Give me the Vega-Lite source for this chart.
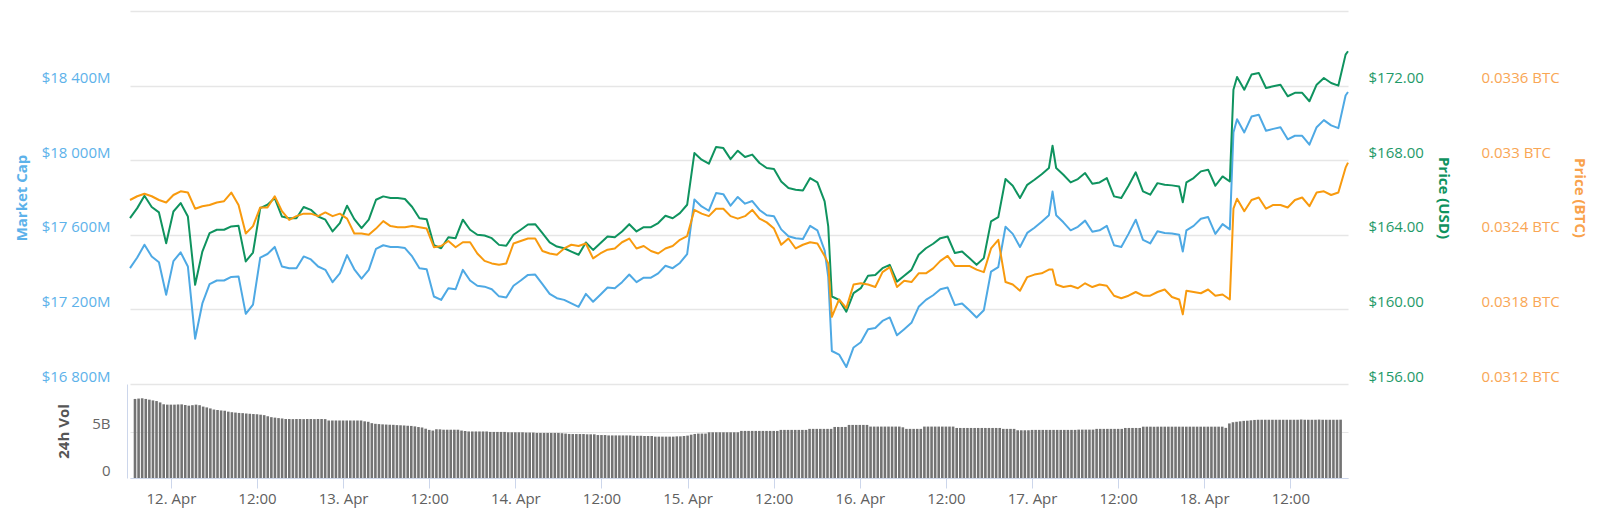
{
  "$schema": "https://vega.github.io/schema/vega-lite/v6.json",
  "description": "Market cap, price (USD), price (BTC) and 24h volume over one week",
  "padding": {"left": 14, "top": 11, "right": 5, "bottom": 5},
  "spacing": 0,
  "resolve": {"scale": {"y": "independent"}},
  "config": {
    "view": {"stroke": null},
    "font": "Open Sans",
    "axis": {"labelFont": "Open Sans", "titleFont": "Open Sans"}
  },
  "datasets": {
    "px": [
      {"t": "2019-04-11T19:00Z", "mc": 17421, "usd": 164.89, "btc": 0.03268},
      {"t": "2019-04-11T20:00Z", "mc": 17478, "usd": 165.43, "btc": 0.03271},
      {"t": "2019-04-11T21:00Z", "mc": 17547, "usd": 166.09, "btc": 0.03273},
      {"t": "2019-04-11T22:00Z", "mc": 17484, "usd": 165.49, "btc": 0.03271},
      {"t": "2019-04-11T23:00Z", "mc": 17453, "usd": 165.20, "btc": 0.03268},
      {"t": "2019-04-12T00:00Z", "mc": 17279, "usd": 163.55, "btc": 0.03266},
      {"t": "2019-04-12T01:00Z", "mc": 17459, "usd": 165.25, "btc": 0.03272},
      {"t": "2019-04-12T02:00Z", "mc": 17506, "usd": 165.70, "btc": 0.03275},
      {"t": "2019-04-12T03:00Z", "mc": 17430, "usd": 164.98, "btc": 0.03274},
      {"t": "2019-04-12T04:00Z", "mc": 17043, "usd": 161.32, "btc": 0.03261},
      {"t": "2019-04-12T05:00Z", "mc": 17232, "usd": 163.10, "btc": 0.03263},
      {"t": "2019-04-12T06:00Z", "mc": 17336, "usd": 164.09, "btc": 0.03264},
      {"t": "2019-04-12T07:00Z", "mc": 17355, "usd": 164.27, "btc": 0.03266},
      {"t": "2019-04-12T08:00Z", "mc": 17355, "usd": 164.27, "btc": 0.03267},
      {"t": "2019-04-12T09:00Z", "mc": 17374, "usd": 164.45, "btc": 0.03274},
      {"t": "2019-04-12T10:00Z", "mc": 17377, "usd": 164.48, "btc": 0.03264},
      {"t": "2019-04-12T11:00Z", "mc": 17176, "usd": 162.57, "btc": 0.03241},
      {"t": "2019-04-12T12:00Z", "mc": 17226, "usd": 163.05, "btc": 0.03247},
      {"t": "2019-04-12T13:00Z", "mc": 17478, "usd": 165.43, "btc": 0.03262},
      {"t": "2019-04-12T14:00Z", "mc": 17497, "usd": 165.61, "btc": 0.03262},
      {"t": "2019-04-12T15:00Z", "mc": 17535, "usd": 165.97, "btc": 0.03271},
      {"t": "2019-04-12T16:00Z", "mc": 17430, "usd": 164.98, "btc": 0.03259},
      {"t": "2019-04-12T17:00Z", "mc": 17421, "usd": 164.89, "btc": 0.03252},
      {"t": "2019-04-12T18:00Z", "mc": 17421, "usd": 164.89, "btc": 0.03255},
      {"t": "2019-04-12T19:00Z", "mc": 17484, "usd": 165.49, "btc": 0.03257},
      {"t": "2019-04-12T20:00Z", "mc": 17468, "usd": 165.34, "btc": 0.03257},
      {"t": "2019-04-12T21:00Z", "mc": 17430, "usd": 164.98, "btc": 0.03255},
      {"t": "2019-04-12T22:00Z", "mc": 17412, "usd": 164.81, "btc": 0.03258},
      {"t": "2019-04-12T23:00Z", "mc": 17346, "usd": 164.18, "btc": 0.03255},
      {"t": "2019-04-13T00:00Z", "mc": 17393, "usd": 164.63, "btc": 0.03257},
      {"t": "2019-04-13T01:00Z", "mc": 17491, "usd": 165.56, "btc": 0.03253},
      {"t": "2019-04-13T02:00Z", "mc": 17415, "usd": 164.84, "btc": 0.03241},
      {"t": "2019-04-13T03:00Z", "mc": 17365, "usd": 164.36, "btc": 0.03241},
      {"t": "2019-04-13T04:00Z", "mc": 17412, "usd": 164.81, "btc": 0.03240},
      {"t": "2019-04-13T05:00Z", "mc": 17525, "usd": 165.88, "btc": 0.03245},
      {"t": "2019-04-13T06:00Z", "mc": 17544, "usd": 166.06, "btc": 0.03251},
      {"t": "2019-04-13T07:00Z", "mc": 17535, "usd": 165.97, "btc": 0.03247},
      {"t": "2019-04-13T08:00Z", "mc": 17535, "usd": 165.97, "btc": 0.03246},
      {"t": "2019-04-13T09:00Z", "mc": 17529, "usd": 165.92, "btc": 0.03246},
      {"t": "2019-04-13T10:00Z", "mc": 17484, "usd": 165.49, "btc": 0.03247},
      {"t": "2019-04-13T11:00Z", "mc": 17421, "usd": 164.89, "btc": 0.03246},
      {"t": "2019-04-13T12:00Z", "mc": 17415, "usd": 164.84, "btc": 0.03245},
      {"t": "2019-04-13T13:00Z", "mc": 17269, "usd": 163.45, "btc": 0.03230},
      {"t": "2019-04-13T14:00Z", "mc": 17251, "usd": 163.28, "btc": 0.03231},
      {"t": "2019-04-13T15:00Z", "mc": 17313, "usd": 163.87, "btc": 0.03235},
      {"t": "2019-04-13T16:00Z", "mc": 17308, "usd": 163.82, "btc": 0.03230},
      {"t": "2019-04-13T17:00Z", "mc": 17412, "usd": 164.81, "btc": 0.03234},
      {"t": "2019-04-13T18:00Z", "mc": 17355, "usd": 164.27, "btc": 0.03234},
      {"t": "2019-04-13T19:00Z", "mc": 17327, "usd": 164.00, "btc": 0.03225},
      {"t": "2019-04-13T20:00Z", "mc": 17322, "usd": 163.96, "btc": 0.03219},
      {"t": "2019-04-13T21:00Z", "mc": 17308, "usd": 163.82, "btc": 0.03217},
      {"t": "2019-04-13T22:00Z", "mc": 17270, "usd": 163.46, "btc": 0.03216},
      {"t": "2019-04-13T23:00Z", "mc": 17264, "usd": 163.41, "btc": 0.03217},
      {"t": "2019-04-14T00:00Z", "mc": 17327, "usd": 164.00, "btc": 0.03233},
      {"t": "2019-04-14T01:00Z", "mc": 17355, "usd": 164.27, "btc": 0.03235},
      {"t": "2019-04-14T02:00Z", "mc": 17385, "usd": 164.55, "btc": 0.03237},
      {"t": "2019-04-14T03:00Z", "mc": 17387, "usd": 164.57, "btc": 0.03237},
      {"t": "2019-04-14T04:00Z", "mc": 17336, "usd": 164.09, "btc": 0.03227},
      {"t": "2019-04-14T05:00Z", "mc": 17283, "usd": 163.59, "btc": 0.03225},
      {"t": "2019-04-14T06:00Z", "mc": 17260, "usd": 163.37, "btc": 0.03224},
      {"t": "2019-04-14T07:00Z", "mc": 17251, "usd": 163.28, "btc": 0.03229},
      {"t": "2019-04-14T08:00Z", "mc": 17232, "usd": 163.10, "btc": 0.03232},
      {"t": "2019-04-14T09:00Z", "mc": 17214, "usd": 162.93, "btc": 0.03231},
      {"t": "2019-04-14T10:00Z", "mc": 17283, "usd": 163.59, "btc": 0.03233},
      {"t": "2019-04-14T11:00Z", "mc": 17241, "usd": 163.19, "btc": 0.03221},
      {"t": "2019-04-14T12:00Z", "mc": 17279, "usd": 163.55, "btc": 0.03225},
      {"t": "2019-04-14T13:00Z", "mc": 17317, "usd": 163.91, "btc": 0.03228},
      {"t": "2019-04-14T14:00Z", "mc": 17313, "usd": 163.87, "btc": 0.03229},
      {"t": "2019-04-14T15:00Z", "mc": 17346, "usd": 164.18, "btc": 0.03234},
      {"t": "2019-04-14T16:00Z", "mc": 17387, "usd": 164.57, "btc": 0.03237},
      {"t": "2019-04-14T17:00Z", "mc": 17346, "usd": 164.18, "btc": 0.03229},
      {"t": "2019-04-14T18:00Z", "mc": 17370, "usd": 164.41, "btc": 0.03231},
      {"t": "2019-04-14T19:00Z", "mc": 17370, "usd": 164.41, "btc": 0.03227},
      {"t": "2019-04-14T20:00Z", "mc": 17393, "usd": 164.63, "btc": 0.03225},
      {"t": "2019-04-14T21:00Z", "mc": 17434, "usd": 165.02, "btc": 0.03229},
      {"t": "2019-04-14T22:00Z", "mc": 17421, "usd": 164.89, "btc": 0.03231},
      {"t": "2019-04-14T23:00Z", "mc": 17449, "usd": 165.16, "btc": 0.03236},
      {"t": "2019-04-15T00:00Z", "mc": 17497, "usd": 165.61, "btc": 0.03239},
      {"t": "2019-04-15T01:00Z", "mc": 17789, "usd": 168.38, "btc": 0.03260},
      {"t": "2019-04-15T02:00Z", "mc": 17752, "usd": 168.03, "btc": 0.03257},
      {"t": "2019-04-15T03:00Z", "mc": 17729, "usd": 167.81, "btc": 0.03255},
      {"t": "2019-04-15T04:00Z", "mc": 17824, "usd": 168.71, "btc": 0.03261},
      {"t": "2019-04-15T05:00Z", "mc": 17818, "usd": 168.65, "btc": 0.03261},
      {"t": "2019-04-15T06:00Z", "mc": 17756, "usd": 168.06, "btc": 0.03255},
      {"t": "2019-04-15T07:00Z", "mc": 17803, "usd": 168.51, "btc": 0.03253},
      {"t": "2019-04-15T08:00Z", "mc": 17767, "usd": 168.17, "btc": 0.03255},
      {"t": "2019-04-15T09:00Z", "mc": 17781, "usd": 168.30, "btc": 0.03260},
      {"t": "2019-04-15T10:00Z", "mc": 17733, "usd": 167.85, "btc": 0.03253},
      {"t": "2019-04-15T11:00Z", "mc": 17705, "usd": 167.58, "btc": 0.03250},
      {"t": "2019-04-15T12:00Z", "mc": 17700, "usd": 167.53, "btc": 0.03245},
      {"t": "2019-04-15T13:00Z", "mc": 17629, "usd": 166.86, "btc": 0.03232},
      {"t": "2019-04-15T14:00Z", "mc": 17592, "usd": 166.51, "btc": 0.03237},
      {"t": "2019-04-15T15:00Z", "mc": 17582, "usd": 166.42, "btc": 0.03229},
      {"t": "2019-04-15T16:00Z", "mc": 17578, "usd": 166.38, "btc": 0.03232},
      {"t": "2019-04-15T17:00Z", "mc": 17648, "usd": 167.04, "btc": 0.03234},
      {"t": "2019-04-15T18:00Z", "mc": 17624, "usd": 166.81, "btc": 0.03233},
      {"t": "2019-04-15T19:00Z", "mc": 17516, "usd": 165.79, "btc": 0.03223},
      {"t": "2019-04-15T19:30Z", "mc": 17374, "usd": 164.45, "btc": 0.03217},
      {"t": "2019-04-15T20:00Z", "mc": 16977, "usd": 160.69, "btc": 0.03174},
      {"t": "2019-04-15T21:00Z", "mc": 16958, "usd": 160.51, "btc": 0.03188},
      {"t": "2019-04-15T22:00Z", "mc": 16891, "usd": 159.88, "btc": 0.03181},
      {"t": "2019-04-15T23:00Z", "mc": 16996, "usd": 160.87, "btc": 0.03200},
      {"t": "2019-04-16T00:00Z", "mc": 17024, "usd": 161.14, "btc": 0.03201},
      {"t": "2019-04-16T01:00Z", "mc": 17094, "usd": 161.80, "btc": 0.03200},
      {"t": "2019-04-16T02:00Z", "mc": 17100, "usd": 161.85, "btc": 0.03198},
      {"t": "2019-04-16T03:00Z", "mc": 17138, "usd": 162.21, "btc": 0.03210},
      {"t": "2019-04-16T04:00Z", "mc": 17157, "usd": 162.39, "btc": 0.03214},
      {"t": "2019-04-16T05:00Z", "mc": 17061, "usd": 161.49, "btc": 0.03198},
      {"t": "2019-04-16T06:00Z", "mc": 17094, "usd": 161.80, "btc": 0.03203},
      {"t": "2019-04-16T07:00Z", "mc": 17128, "usd": 162.12, "btc": 0.03202},
      {"t": "2019-04-16T08:00Z", "mc": 17214, "usd": 162.93, "btc": 0.03209},
      {"t": "2019-04-16T09:00Z", "mc": 17251, "usd": 163.28, "btc": 0.03209},
      {"t": "2019-04-16T10:00Z", "mc": 17276, "usd": 163.52, "btc": 0.03213},
      {"t": "2019-04-16T11:00Z", "mc": 17308, "usd": 163.82, "btc": 0.03219},
      {"t": "2019-04-16T12:00Z", "mc": 17317, "usd": 163.91, "btc": 0.03223},
      {"t": "2019-04-16T13:00Z", "mc": 17223, "usd": 163.02, "btc": 0.03215},
      {"t": "2019-04-16T14:00Z", "mc": 17232, "usd": 163.10, "btc": 0.03215},
      {"t": "2019-04-16T15:00Z", "mc": 17195, "usd": 162.75, "btc": 0.03215},
      {"t": "2019-04-16T16:00Z", "mc": 17157, "usd": 162.39, "btc": 0.03212},
      {"t": "2019-04-16T17:00Z", "mc": 17195, "usd": 162.75, "btc": 0.03210},
      {"t": "2019-04-16T18:00Z", "mc": 17403, "usd": 164.72, "btc": 0.03229},
      {"t": "2019-04-16T19:00Z", "mc": 17427, "usd": 164.95, "btc": 0.03236},
      {"t": "2019-04-16T20:00Z", "mc": 17643, "usd": 166.99, "btc": 0.03202},
      {"t": "2019-04-16T21:00Z", "mc": 17605, "usd": 166.63, "btc": 0.03200},
      {"t": "2019-04-16T22:00Z", "mc": 17535, "usd": 165.97, "btc": 0.03195},
      {"t": "2019-04-16T23:00Z", "mc": 17610, "usd": 166.68, "btc": 0.03206},
      {"t": "2019-04-17T00:00Z", "mc": 17638, "usd": 166.95, "btc": 0.03208},
      {"t": "2019-04-17T01:00Z", "mc": 17670, "usd": 167.25, "btc": 0.03209},
      {"t": "2019-04-17T02:00Z", "mc": 17705, "usd": 167.58, "btc": 0.03212},
      {"t": "2019-04-17T02:30Z", "mc": 17832, "usd": 168.78, "btc": 0.03212},
      {"t": "2019-04-17T03:00Z", "mc": 17705, "usd": 167.58, "btc": 0.03200},
      {"t": "2019-04-17T04:00Z", "mc": 17667, "usd": 167.22, "btc": 0.03198},
      {"t": "2019-04-17T05:00Z", "mc": 17624, "usd": 166.81, "btc": 0.03199},
      {"t": "2019-04-17T06:00Z", "mc": 17643, "usd": 166.99, "btc": 0.03197},
      {"t": "2019-04-17T07:00Z", "mc": 17676, "usd": 167.31, "btc": 0.03201},
      {"t": "2019-04-17T08:00Z", "mc": 17616, "usd": 166.74, "btc": 0.03198},
      {"t": "2019-04-17T09:00Z", "mc": 17624, "usd": 166.81, "btc": 0.03200},
      {"t": "2019-04-17T10:00Z", "mc": 17648, "usd": 167.04, "btc": 0.03199},
      {"t": "2019-04-17T11:00Z", "mc": 17544, "usd": 166.06, "btc": 0.03191},
      {"t": "2019-04-17T12:00Z", "mc": 17535, "usd": 165.97, "btc": 0.03189},
      {"t": "2019-04-17T13:00Z", "mc": 17605, "usd": 166.63, "btc": 0.03191},
      {"t": "2019-04-17T14:00Z", "mc": 17681, "usd": 167.35, "btc": 0.03194},
      {"t": "2019-04-17T15:00Z", "mc": 17573, "usd": 166.33, "btc": 0.03191},
      {"t": "2019-04-17T16:00Z", "mc": 17554, "usd": 166.15, "btc": 0.03191},
      {"t": "2019-04-17T17:00Z", "mc": 17619, "usd": 166.77, "btc": 0.03194},
      {"t": "2019-04-17T18:00Z", "mc": 17610, "usd": 166.68, "btc": 0.03196},
      {"t": "2019-04-17T19:00Z", "mc": 17607, "usd": 166.65, "btc": 0.03190},
      {"t": "2019-04-17T20:00Z", "mc": 17600, "usd": 166.59, "btc": 0.03188},
      {"t": "2019-04-17T20:30Z", "mc": 17510, "usd": 165.74, "btc": 0.03176},
      {"t": "2019-04-17T21:00Z", "mc": 17624, "usd": 166.81, "btc": 0.03195},
      {"t": "2019-04-17T22:00Z", "mc": 17648, "usd": 167.04, "btc": 0.03194},
      {"t": "2019-04-17T23:00Z", "mc": 17686, "usd": 167.40, "btc": 0.03193},
      {"t": "2019-04-18T00:00Z", "mc": 17695, "usd": 167.49, "btc": 0.03196},
      {"t": "2019-04-18T01:00Z", "mc": 17605, "usd": 166.63, "btc": 0.03191},
      {"t": "2019-04-18T02:00Z", "mc": 17657, "usd": 167.13, "btc": 0.03192},
      {"t": "2019-04-18T03:00Z", "mc": 17629, "usd": 166.86, "btc": 0.03188},
      {"t": "2019-04-18T03:30Z", "mc": 18149, "usd": 171.78, "btc": 0.03261},
      {"t": "2019-04-18T04:00Z", "mc": 18220, "usd": 172.46, "btc": 0.03269},
      {"t": "2019-04-18T05:00Z", "mc": 18149, "usd": 171.78, "btc": 0.03259},
      {"t": "2019-04-18T06:00Z", "mc": 18234, "usd": 172.59, "btc": 0.03268},
      {"t": "2019-04-18T07:00Z", "mc": 18244, "usd": 172.68, "btc": 0.03270},
      {"t": "2019-04-18T08:00Z", "mc": 18158, "usd": 171.87, "btc": 0.03261},
      {"t": "2019-04-18T09:00Z", "mc": 18168, "usd": 171.96, "btc": 0.03264},
      {"t": "2019-04-18T10:00Z", "mc": 18177, "usd": 172.05, "btc": 0.03264},
      {"t": "2019-04-18T11:00Z", "mc": 18112, "usd": 171.43, "btc": 0.03262},
      {"t": "2019-04-18T12:00Z", "mc": 18131, "usd": 171.61, "btc": 0.03268},
      {"t": "2019-04-18T13:00Z", "mc": 18131, "usd": 171.61, "btc": 0.03270},
      {"t": "2019-04-18T14:00Z", "mc": 18083, "usd": 171.16, "btc": 0.03263},
      {"t": "2019-04-18T15:00Z", "mc": 18177, "usd": 172.05, "btc": 0.03274},
      {"t": "2019-04-18T16:00Z", "mc": 18215, "usd": 172.41, "btc": 0.03275},
      {"t": "2019-04-18T17:00Z", "mc": 18187, "usd": 172.14, "btc": 0.03272},
      {"t": "2019-04-18T18:00Z", "mc": 18172, "usd": 172.00, "btc": 0.03274},
      {"t": "2019-04-18T19:00Z", "mc": 18347, "usd": 173.66, "btc": 0.03294},
      {"t": "2019-04-18T19:20Z", "mc": 18366, "usd": 173.84, "btc": 0.03298}
    ],
    "vol": [
      {"t": "2019-04-11T19:00Z", "v": 8.58}, {"t": "2019-04-11T19:30Z", "v": 8.62},
      {"t": "2019-04-11T20:00Z", "v": 8.65}, {"t": "2019-04-11T20:30Z", "v": 8.58},
      {"t": "2019-04-11T21:00Z", "v": 8.50}, {"t": "2019-04-11T21:30Z", "v": 8.42},
      {"t": "2019-04-11T22:00Z", "v": 8.35}, {"t": "2019-04-11T22:30Z", "v": 8.20},
      {"t": "2019-04-11T23:00Z", "v": 8.00}, {"t": "2019-04-11T23:30Z", "v": 7.96},
      {"t": "2019-04-12T00:00Z", "v": 7.96}, {"t": "2019-04-12T00:30Z", "v": 7.96},
      {"t": "2019-04-12T01:00Z", "v": 7.98}, {"t": "2019-04-12T01:30Z", "v": 7.99},
      {"t": "2019-04-12T02:00Z", "v": 7.92}, {"t": "2019-04-12T02:30Z", "v": 7.85},
      {"t": "2019-04-12T03:00Z", "v": 7.90}, {"t": "2019-04-12T03:30Z", "v": 7.96},
      {"t": "2019-04-12T04:00Z", "v": 7.90}, {"t": "2019-04-12T04:30Z", "v": 7.75},
      {"t": "2019-04-12T05:00Z", "v": 7.66}, {"t": "2019-04-12T05:30Z", "v": 7.55},
      {"t": "2019-04-12T06:00Z", "v": 7.43}, {"t": "2019-04-12T06:30Z", "v": 7.38},
      {"t": "2019-04-12T07:00Z", "v": 7.33}, {"t": "2019-04-12T07:30Z", "v": 7.30},
      {"t": "2019-04-12T08:00Z", "v": 7.20}, {"t": "2019-04-12T08:30Z", "v": 7.14},
      {"t": "2019-04-12T09:00Z", "v": 7.10}, {"t": "2019-04-12T09:30Z", "v": 7.06},
      {"t": "2019-04-12T10:00Z", "v": 7.04}, {"t": "2019-04-12T10:30Z", "v": 7.00},
      {"t": "2019-04-12T11:00Z", "v": 6.97}, {"t": "2019-04-12T11:30Z", "v": 6.94},
      {"t": "2019-04-12T12:00Z", "v": 6.92}, {"t": "2019-04-12T12:30Z", "v": 6.87},
      {"t": "2019-04-12T13:00Z", "v": 6.82}, {"t": "2019-04-12T13:30Z", "v": 6.70},
      {"t": "2019-04-12T14:00Z", "v": 6.60}, {"t": "2019-04-12T14:30Z", "v": 6.55},
      {"t": "2019-04-12T15:00Z", "v": 6.50}, {"t": "2019-04-12T15:30Z", "v": 6.46},
      {"t": "2019-04-12T16:00Z", "v": 6.40}, {"t": "2019-04-12T16:30Z", "v": 6.40},
      {"t": "2019-04-12T17:00Z", "v": 6.39}, {"t": "2019-04-12T17:30Z", "v": 6.40},
      {"t": "2019-04-12T18:00Z", "v": 6.40}, {"t": "2019-04-12T18:30Z", "v": 6.39},
      {"t": "2019-04-12T19:00Z", "v": 6.40}, {"t": "2019-04-12T19:30Z", "v": 6.40},
      {"t": "2019-04-12T20:00Z", "v": 6.39}, {"t": "2019-04-12T20:30Z", "v": 6.40},
      {"t": "2019-04-12T21:00Z", "v": 6.40}, {"t": "2019-04-12T21:30Z", "v": 6.39},
      {"t": "2019-04-12T22:00Z", "v": 6.24}, {"t": "2019-04-12T22:30Z", "v": 6.24},
      {"t": "2019-04-12T23:00Z", "v": 6.24}, {"t": "2019-04-12T23:30Z", "v": 6.24},
      {"t": "2019-04-13T00:00Z", "v": 6.24}, {"t": "2019-04-13T00:30Z", "v": 6.24},
      {"t": "2019-04-13T01:00Z", "v": 6.24}, {"t": "2019-04-13T01:30Z", "v": 6.24},
      {"t": "2019-04-13T02:00Z", "v": 6.24}, {"t": "2019-04-13T02:30Z", "v": 6.24},
      {"t": "2019-04-13T03:00Z", "v": 6.15}, {"t": "2019-04-13T03:30Z", "v": 6.10},
      {"t": "2019-04-13T04:00Z", "v": 5.95}, {"t": "2019-04-13T04:30Z", "v": 5.88},
      {"t": "2019-04-13T05:00Z", "v": 5.85}, {"t": "2019-04-13T05:30Z", "v": 5.82},
      {"t": "2019-04-13T06:00Z", "v": 5.80}, {"t": "2019-04-13T06:30Z", "v": 5.78},
      {"t": "2019-04-13T07:00Z", "v": 5.77}, {"t": "2019-04-13T07:30Z", "v": 5.74},
      {"t": "2019-04-13T08:00Z", "v": 5.72}, {"t": "2019-04-13T08:30Z", "v": 5.70},
      {"t": "2019-04-13T09:00Z", "v": 5.67}, {"t": "2019-04-13T09:30Z", "v": 5.65},
      {"t": "2019-04-13T10:00Z", "v": 5.60}, {"t": "2019-04-13T10:30Z", "v": 5.53},
      {"t": "2019-04-13T11:00Z", "v": 5.48}, {"t": "2019-04-13T11:30Z", "v": 5.35},
      {"t": "2019-04-13T12:00Z", "v": 5.22}, {"t": "2019-04-13T12:30Z", "v": 5.15},
      {"t": "2019-04-13T13:00Z", "v": 5.29}, {"t": "2019-04-13T13:30Z", "v": 5.28},
      {"t": "2019-04-13T14:00Z", "v": 5.24}, {"t": "2019-04-13T14:30Z", "v": 5.24},
      {"t": "2019-04-13T15:00Z", "v": 5.24}, {"t": "2019-04-13T15:30Z", "v": 5.24},
      {"t": "2019-04-13T16:00Z", "v": 5.24}, {"t": "2019-04-13T16:30Z", "v": 5.15},
      {"t": "2019-04-13T17:00Z", "v": 5.10}, {"t": "2019-04-13T17:30Z", "v": 5.05},
      {"t": "2019-04-13T18:00Z", "v": 5.05}, {"t": "2019-04-13T18:30Z", "v": 5.05},
      {"t": "2019-04-13T19:00Z", "v": 5.05}, {"t": "2019-04-13T19:30Z", "v": 5.05},
      {"t": "2019-04-13T20:00Z", "v": 5.05}, {"t": "2019-04-13T20:30Z", "v": 5.00},
      {"t": "2019-04-13T21:00Z", "v": 5.00}, {"t": "2019-04-13T21:30Z", "v": 5.00},
      {"t": "2019-04-13T22:00Z", "v": 5.00}, {"t": "2019-04-13T22:30Z", "v": 5.00},
      {"t": "2019-04-13T23:00Z", "v": 4.96}, {"t": "2019-04-13T23:30Z", "v": 4.96},
      {"t": "2019-04-14T00:00Z", "v": 4.96}, {"t": "2019-04-14T00:30Z", "v": 4.96},
      {"t": "2019-04-14T01:00Z", "v": 4.96}, {"t": "2019-04-14T01:30Z", "v": 4.93},
      {"t": "2019-04-14T02:00Z", "v": 4.93}, {"t": "2019-04-14T02:30Z", "v": 4.93},
      {"t": "2019-04-14T03:00Z", "v": 4.89}, {"t": "2019-04-14T03:30Z", "v": 4.89},
      {"t": "2019-04-14T04:00Z", "v": 4.89}, {"t": "2019-04-14T04:30Z", "v": 4.89},
      {"t": "2019-04-14T05:00Z", "v": 4.89}, {"t": "2019-04-14T05:30Z", "v": 4.89},
      {"t": "2019-04-14T06:00Z", "v": 4.89}, {"t": "2019-04-14T06:30Z", "v": 4.86},
      {"t": "2019-04-14T07:00Z", "v": 4.82}, {"t": "2019-04-14T07:30Z", "v": 4.78},
      {"t": "2019-04-14T08:00Z", "v": 4.77}, {"t": "2019-04-14T08:30Z", "v": 4.77},
      {"t": "2019-04-14T09:00Z", "v": 4.77}, {"t": "2019-04-14T09:30Z", "v": 4.77},
      {"t": "2019-04-14T10:00Z", "v": 4.74}, {"t": "2019-04-14T10:30Z", "v": 4.74},
      {"t": "2019-04-14T11:00Z", "v": 4.74}, {"t": "2019-04-14T11:30Z", "v": 4.66},
      {"t": "2019-04-14T12:00Z", "v": 4.66}, {"t": "2019-04-14T12:30Z", "v": 4.66},
      {"t": "2019-04-14T13:00Z", "v": 4.62}, {"t": "2019-04-14T13:30Z", "v": 4.62},
      {"t": "2019-04-14T14:00Z", "v": 4.62}, {"t": "2019-04-14T14:30Z", "v": 4.62},
      {"t": "2019-04-14T15:00Z", "v": 4.62}, {"t": "2019-04-14T15:30Z", "v": 4.62},
      {"t": "2019-04-14T16:00Z", "v": 4.62}, {"t": "2019-04-14T16:30Z", "v": 4.58},
      {"t": "2019-04-14T17:00Z", "v": 4.58}, {"t": "2019-04-14T17:30Z", "v": 4.58},
      {"t": "2019-04-14T18:00Z", "v": 4.56}, {"t": "2019-04-14T18:30Z", "v": 4.56},
      {"t": "2019-04-14T19:00Z", "v": 4.56}, {"t": "2019-04-14T19:30Z", "v": 4.49},
      {"t": "2019-04-14T20:00Z", "v": 4.49}, {"t": "2019-04-14T20:30Z", "v": 4.49},
      {"t": "2019-04-14T21:00Z", "v": 4.49}, {"t": "2019-04-14T21:30Z", "v": 4.49},
      {"t": "2019-04-14T22:00Z", "v": 4.49}, {"t": "2019-04-14T22:30Z", "v": 4.52},
      {"t": "2019-04-14T23:00Z", "v": 4.52}, {"t": "2019-04-14T23:30Z", "v": 4.56},
      {"t": "2019-04-15T00:00Z", "v": 4.60}, {"t": "2019-04-15T00:30Z", "v": 4.70},
      {"t": "2019-04-15T01:00Z", "v": 4.78}, {"t": "2019-04-15T01:30Z", "v": 4.82},
      {"t": "2019-04-15T02:00Z", "v": 4.82}, {"t": "2019-04-15T02:30Z", "v": 4.82},
      {"t": "2019-04-15T03:00Z", "v": 4.96}, {"t": "2019-04-15T03:30Z", "v": 4.96},
      {"t": "2019-04-15T04:00Z", "v": 4.96}, {"t": "2019-04-15T04:30Z", "v": 4.96},
      {"t": "2019-04-15T05:00Z", "v": 4.96}, {"t": "2019-04-15T05:30Z", "v": 4.96},
      {"t": "2019-04-15T06:00Z", "v": 4.96}, {"t": "2019-04-15T06:30Z", "v": 4.96},
      {"t": "2019-04-15T07:00Z", "v": 4.96}, {"t": "2019-04-15T07:30Z", "v": 5.11},
      {"t": "2019-04-15T08:00Z", "v": 5.11}, {"t": "2019-04-15T08:30Z", "v": 5.11},
      {"t": "2019-04-15T09:00Z", "v": 5.11}, {"t": "2019-04-15T09:30Z", "v": 5.11},
      {"t": "2019-04-15T10:00Z", "v": 5.11}, {"t": "2019-04-15T10:30Z", "v": 5.11},
      {"t": "2019-04-15T11:00Z", "v": 5.11}, {"t": "2019-04-15T11:30Z", "v": 5.11},
      {"t": "2019-04-15T12:00Z", "v": 5.11}, {"t": "2019-04-15T12:30Z", "v": 5.11},
      {"t": "2019-04-15T13:00Z", "v": 5.22}, {"t": "2019-04-15T13:30Z", "v": 5.22},
      {"t": "2019-04-15T14:00Z", "v": 5.22}, {"t": "2019-04-15T14:30Z", "v": 5.22},
      {"t": "2019-04-15T15:00Z", "v": 5.22}, {"t": "2019-04-15T15:30Z", "v": 5.22},
      {"t": "2019-04-15T16:00Z", "v": 5.22}, {"t": "2019-04-15T16:30Z", "v": 5.22},
      {"t": "2019-04-15T17:00Z", "v": 5.33}, {"t": "2019-04-15T17:30Z", "v": 5.33},
      {"t": "2019-04-15T18:00Z", "v": 5.33}, {"t": "2019-04-15T18:30Z", "v": 5.33},
      {"t": "2019-04-15T19:00Z", "v": 5.33}, {"t": "2019-04-15T19:30Z", "v": 5.33},
      {"t": "2019-04-15T20:00Z", "v": 5.33}, {"t": "2019-04-15T20:30Z", "v": 5.54},
      {"t": "2019-04-15T21:00Z", "v": 5.54}, {"t": "2019-04-15T21:30Z", "v": 5.54},
      {"t": "2019-04-15T22:00Z", "v": 5.54}, {"t": "2019-04-15T22:30Z", "v": 5.76},
      {"t": "2019-04-15T23:00Z", "v": 5.76}, {"t": "2019-04-15T23:30Z", "v": 5.76},
      {"t": "2019-04-16T00:00Z", "v": 5.76}, {"t": "2019-04-16T00:30Z", "v": 5.76},
      {"t": "2019-04-16T01:00Z", "v": 5.76}, {"t": "2019-04-16T01:30Z", "v": 5.58},
      {"t": "2019-04-16T02:00Z", "v": 5.58}, {"t": "2019-04-16T02:30Z", "v": 5.58},
      {"t": "2019-04-16T03:00Z", "v": 5.58}, {"t": "2019-04-16T03:30Z", "v": 5.58},
      {"t": "2019-04-16T04:00Z", "v": 5.58}, {"t": "2019-04-16T04:30Z", "v": 5.58},
      {"t": "2019-04-16T05:00Z", "v": 5.58}, {"t": "2019-04-16T05:30Z", "v": 5.58},
      {"t": "2019-04-16T06:00Z", "v": 5.50}, {"t": "2019-04-16T06:30Z", "v": 5.33},
      {"t": "2019-04-16T07:00Z", "v": 5.33}, {"t": "2019-04-16T07:30Z", "v": 5.33},
      {"t": "2019-04-16T08:00Z", "v": 5.33}, {"t": "2019-04-16T08:30Z", "v": 5.33},
      {"t": "2019-04-16T09:00Z", "v": 5.58}, {"t": "2019-04-16T09:30Z", "v": 5.58},
      {"t": "2019-04-16T10:00Z", "v": 5.58}, {"t": "2019-04-16T10:30Z", "v": 5.58},
      {"t": "2019-04-16T11:00Z", "v": 5.58}, {"t": "2019-04-16T11:30Z", "v": 5.58},
      {"t": "2019-04-16T12:00Z", "v": 5.58}, {"t": "2019-04-16T12:30Z", "v": 5.58},
      {"t": "2019-04-16T13:00Z", "v": 5.58}, {"t": "2019-04-16T13:30Z", "v": 5.43},
      {"t": "2019-04-16T14:00Z", "v": 5.43}, {"t": "2019-04-16T14:30Z", "v": 5.43},
      {"t": "2019-04-16T15:00Z", "v": 5.43}, {"t": "2019-04-16T15:30Z", "v": 5.43},
      {"t": "2019-04-16T16:00Z", "v": 5.43}, {"t": "2019-04-16T16:30Z", "v": 5.43},
      {"t": "2019-04-16T17:00Z", "v": 5.43}, {"t": "2019-04-16T17:30Z", "v": 5.43},
      {"t": "2019-04-16T18:00Z", "v": 5.43}, {"t": "2019-04-16T18:30Z", "v": 5.43},
      {"t": "2019-04-16T19:00Z", "v": 5.43}, {"t": "2019-04-16T19:30Z", "v": 5.43},
      {"t": "2019-04-16T20:00Z", "v": 5.33}, {"t": "2019-04-16T20:30Z", "v": 5.33},
      {"t": "2019-04-16T21:00Z", "v": 5.33}, {"t": "2019-04-16T21:30Z", "v": 5.33},
      {"t": "2019-04-16T22:00Z", "v": 5.18}, {"t": "2019-04-16T22:30Z", "v": 5.18},
      {"t": "2019-04-16T23:00Z", "v": 5.18}, {"t": "2019-04-16T23:30Z", "v": 5.18},
      {"t": "2019-04-17T00:00Z", "v": 5.22}, {"t": "2019-04-17T00:30Z", "v": 5.22},
      {"t": "2019-04-17T01:00Z", "v": 5.22}, {"t": "2019-04-17T01:30Z", "v": 5.22},
      {"t": "2019-04-17T02:00Z", "v": 5.22}, {"t": "2019-04-17T02:30Z", "v": 5.22},
      {"t": "2019-04-17T03:00Z", "v": 5.22}, {"t": "2019-04-17T03:30Z", "v": 5.22},
      {"t": "2019-04-17T04:00Z", "v": 5.22}, {"t": "2019-04-17T04:30Z", "v": 5.22},
      {"t": "2019-04-17T05:00Z", "v": 5.22}, {"t": "2019-04-17T05:30Z", "v": 5.22},
      {"t": "2019-04-17T06:00Z", "v": 5.22}, {"t": "2019-04-17T06:30Z", "v": 5.25},
      {"t": "2019-04-17T07:00Z", "v": 5.25}, {"t": "2019-04-17T07:30Z", "v": 5.25},
      {"t": "2019-04-17T08:00Z", "v": 5.25}, {"t": "2019-04-17T08:30Z", "v": 5.25},
      {"t": "2019-04-17T09:00Z", "v": 5.33}, {"t": "2019-04-17T09:30Z", "v": 5.33},
      {"t": "2019-04-17T10:00Z", "v": 5.33}, {"t": "2019-04-17T10:30Z", "v": 5.33},
      {"t": "2019-04-17T11:00Z", "v": 5.33}, {"t": "2019-04-17T11:30Z", "v": 5.33},
      {"t": "2019-04-17T12:00Z", "v": 5.33}, {"t": "2019-04-17T12:30Z", "v": 5.33},
      {"t": "2019-04-17T13:00Z", "v": 5.43}, {"t": "2019-04-17T13:30Z", "v": 5.43},
      {"t": "2019-04-17T14:00Z", "v": 5.43}, {"t": "2019-04-17T14:30Z", "v": 5.43},
      {"t": "2019-04-17T15:00Z", "v": 5.43}, {"t": "2019-04-17T15:30Z", "v": 5.57},
      {"t": "2019-04-17T16:00Z", "v": 5.57}, {"t": "2019-04-17T16:30Z", "v": 5.57},
      {"t": "2019-04-17T17:00Z", "v": 5.57}, {"t": "2019-04-17T17:30Z", "v": 5.57},
      {"t": "2019-04-17T18:00Z", "v": 5.57}, {"t": "2019-04-17T18:30Z", "v": 5.57},
      {"t": "2019-04-17T19:00Z", "v": 5.57}, {"t": "2019-04-17T19:30Z", "v": 5.57},
      {"t": "2019-04-17T20:00Z", "v": 5.57}, {"t": "2019-04-17T20:30Z", "v": 5.57},
      {"t": "2019-04-17T21:00Z", "v": 5.57}, {"t": "2019-04-17T21:30Z", "v": 5.57},
      {"t": "2019-04-17T22:00Z", "v": 5.57}, {"t": "2019-04-17T22:30Z", "v": 5.57},
      {"t": "2019-04-17T23:00Z", "v": 5.57}, {"t": "2019-04-17T23:30Z", "v": 5.57},
      {"t": "2019-04-18T00:00Z", "v": 5.57}, {"t": "2019-04-18T00:30Z", "v": 5.57},
      {"t": "2019-04-18T01:00Z", "v": 5.57}, {"t": "2019-04-18T01:30Z", "v": 5.57},
      {"t": "2019-04-18T02:00Z", "v": 5.57}, {"t": "2019-04-18T02:30Z", "v": 5.57},
      {"t": "2019-04-18T03:00Z", "v": 5.44}, {"t": "2019-04-18T03:30Z", "v": 5.92},
      {"t": "2019-04-18T04:00Z", "v": 6.05}, {"t": "2019-04-18T04:30Z", "v": 6.10},
      {"t": "2019-04-18T05:00Z", "v": 6.15}, {"t": "2019-04-18T05:30Z", "v": 6.20},
      {"t": "2019-04-18T06:00Z", "v": 6.22}, {"t": "2019-04-18T06:30Z", "v": 6.26},
      {"t": "2019-04-18T07:00Z", "v": 6.30}, {"t": "2019-04-18T07:30Z", "v": 6.32},
      {"t": "2019-04-18T08:00Z", "v": 6.32}, {"t": "2019-04-18T08:30Z", "v": 6.32},
      {"t": "2019-04-18T09:00Z", "v": 6.32}, {"t": "2019-04-18T09:30Z", "v": 6.32},
      {"t": "2019-04-18T10:00Z", "v": 6.32}, {"t": "2019-04-18T10:30Z", "v": 6.32},
      {"t": "2019-04-18T11:00Z", "v": 6.32}, {"t": "2019-04-18T11:30Z", "v": 6.32},
      {"t": "2019-04-18T12:00Z", "v": 6.32}, {"t": "2019-04-18T12:30Z", "v": 6.32},
      {"t": "2019-04-18T13:00Z", "v": 6.32}, {"t": "2019-04-18T13:30Z", "v": 6.35},
      {"t": "2019-04-18T14:00Z", "v": 6.32}, {"t": "2019-04-18T14:30Z", "v": 6.32},
      {"t": "2019-04-18T15:00Z", "v": 6.32}, {"t": "2019-04-18T15:30Z", "v": 6.32},
      {"t": "2019-04-18T16:00Z", "v": 6.34}, {"t": "2019-04-18T16:30Z", "v": 6.32},
      {"t": "2019-04-18T17:00Z", "v": 6.32}, {"t": "2019-04-18T17:30Z", "v": 6.32},
      {"t": "2019-04-18T18:00Z", "v": 6.32}, {"t": "2019-04-18T18:30Z", "v": 6.32},
      {"t": "2019-04-18T19:00Z", "v": 6.33}
    ]
  },
  "vconcat": [
    {
      "width": 1218,
      "height": 373,
      "data": {"name": "px"},
      "encoding": {
        "x": {
          "field": "t",
          "type": "temporal",
          "scale": {
            "type": "utc",
            "domain": [
              {"year": 2019, "month": 4, "date": 11, "hours": 19, "utc": true},
              {"year": 2019, "month": 4, "date": 18, "hours": 19, "minutes": 20, "utc": true}
            ]
          },
          "axis": null
        }
      },
      "layer": [
        {
          "mark": {"type": "line", "color": "#4ea9e4", "strokeWidth": 2, "strokeJoin": "round"},
          "encoding": {
            "y": {
              "field": "mc",
              "type": "quantitative",
              "scale": {"domain": [16800, 18800], "nice": false, "zero": false},
              "axis": {
                "orient": "left",
                "values": [16800, 17200, 17600, 18000, 18400, 18800],
                "labelExpr": "datum.value > 18500 ? '' : '$' + replace(format(datum.value, ','), ',', ' ') + 'M'",
                "labelFontSize": {"condition": {"test": "datum.value > 18500", "value": 0}, "value": 15},
                "labelColor": "#5db2ea",
                "labelBaseline": "bottom",
                "labelPadding": 20,
                "ticks": false,
                "tickSize": 0,
                "domain": false,
                "grid": true,
                "gridColor": "#e6e6e6",
                "gridWidth": 1.5,
                "title": "Market Cap",
                "titleColor": "#5db2ea",
                "titleFontSize": 15,
                "titleFontWeight": "bold",
                "titlePadding": 12
              }
            }
          }
        },
        {
          "mark": {"type": "line", "color": "#0f935f", "strokeWidth": 2, "strokeJoin": "round"},
          "encoding": {
            "y": {
              "field": "usd",
              "type": "quantitative",
              "scale": {"domain": [156, 176], "nice": false, "zero": false},
              "axis": {
                "orient": "right",
                "values": [156, 160, 164, 168, 172, 176],
                "labelExpr": "datum.value > 175 ? '' : format(datum.value, '$.2f')",
                "labelFontSize": {"condition": {"test": "datum.value > 175", "value": 0}, "value": 15},
                "labelColor": "#1f9a69",
                "labelBaseline": "bottom",
                "labelAlign": "left",
                "labelPadding": 20,
                "ticks": false,
                "tickSize": 0,
                "domain": false,
                "grid": false,
                "title": "Price (USD)",
                "titleColor": "#0f935f",
                "titleFontSize": 15,
                "titleFontWeight": "bold",
                "titlePadding": 12
              }
            }
          }
        },
        {
          "mark": {"type": "line", "color": "#f89a0e", "strokeWidth": 2, "strokeJoin": "round"},
          "encoding": {
            "y": {
              "field": "btc",
              "type": "quantitative",
              "scale": {"domain": [0.0312, 0.0342], "nice": false, "zero": false},
              "axis": {
                "orient": "right",
                "offset": 113,
                "values": [0.0312, 0.0318, 0.0324, 0.033, 0.0336, 0.0342],
                "labelExpr": "datum.value > 0.034 ? '' : format(datum.value, '.4~f') + ' BTC'",
                "labelFontSize": {"condition": {"test": "datum.value > 0.034", "value": 0}, "value": 15},
                "labelColor": "#f9a654",
                "labelBaseline": "bottom",
                "labelAlign": "left",
                "labelPadding": 20,
                "ticks": false,
                "tickSize": 0,
                "domain": false,
                "grid": false,
                "title": "Price (BTC)",
                "titleColor": "#f9a24c",
                "titleFontSize": 15,
                "titleFontWeight": "bold",
                "titlePadding": 12
              }
            }
          }
        }
      ],
      "resolve": {"scale": {"y": "independent"}}
    },
    {
      "width": 1218,
      "height": 94,
      "data": {"name": "vol"},
      "mark": {"type": "bar", "width": 2.6, "color": "#737373"},
      "encoding": {
        "x": {
          "field": "t",
          "type": "temporal",
          "scale": {
            "type": "utc",
            "domain": [
              {"year": 2019, "month": 4, "date": 11, "hours": 19, "utc": true},
              {"year": 2019, "month": 4, "date": 18, "hours": 19, "minutes": 20, "utc": true}
            ]
          },
          "axis": {
            "values": [
              {"year": 2019, "month": 4, "date": 12, "hours": 0, "utc": true},
              {"year": 2019, "month": 4, "date": 12, "hours": 12, "utc": true},
              {"year": 2019, "month": 4, "date": 13, "hours": 0, "utc": true},
              {"year": 2019, "month": 4, "date": 13, "hours": 12, "utc": true},
              {"year": 2019, "month": 4, "date": 14, "hours": 0, "utc": true},
              {"year": 2019, "month": 4, "date": 14, "hours": 12, "utc": true},
              {"year": 2019, "month": 4, "date": 15, "hours": 0, "utc": true},
              {"year": 2019, "month": 4, "date": 15, "hours": 12, "utc": true},
              {"year": 2019, "month": 4, "date": 16, "hours": 0, "utc": true},
              {"year": 2019, "month": 4, "date": 16, "hours": 12, "utc": true},
              {"year": 2019, "month": 4, "date": 17, "hours": 0, "utc": true},
              {"year": 2019, "month": 4, "date": 17, "hours": 12, "utc": true},
              {"year": 2019, "month": 4, "date": 18, "hours": 0, "utc": true},
              {"year": 2019, "month": 4, "date": 18, "hours": 12, "utc": true}
            ],
            "labelExpr": "utchours(datum.value) == 0 ? utcFormat(datum.value, '%-d. %b') : utcFormat(datum.value, '%H:%M')",
            "labelFontSize": 15,
            "labelColor": "#606060",
            "labelPadding": 3,
            "labelBaseline": "top",
            "tickColor": "#ccd6eb",
            "tickSize": 10,
            "domainColor": "#ccd6eb",
            "grid": false,
            "title": null
          }
        },
        "y": {
          "field": "v",
          "type": "quantitative",
          "scale": {"domain": [0, 10.2], "nice": false},
          "axis": {
            "values": [0, 5],
            "labelExpr": "datum.value == 0 ? '0' : datum.value + 'B'",
            "labelFontSize": 15,
            "labelColor": "#666666",
            "labelBaseline": "bottom",
            "labelPadding": 17,
            "offset": 3,
            "ticks": false,
            "tickSize": 0,
            "domain": true,
            "domainColor": "#ccd6eb",
            "grid": true,
            "gridColor": "#e6e6e6",
            "title": "24h Vol",
            "titleColor": "#555555",
            "titleFontSize": 15,
            "titleFontWeight": "bold",
            "titlePadding": 20
          }
        }
      }
    }
  ]
}
